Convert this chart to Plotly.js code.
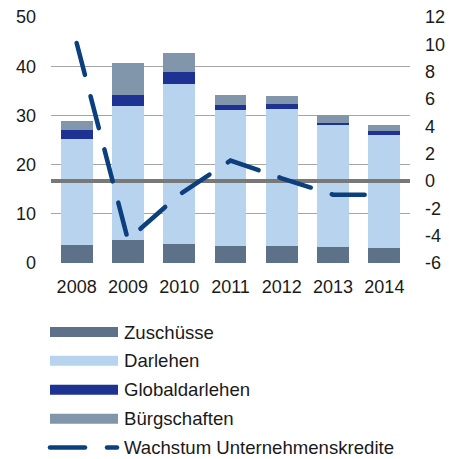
<!DOCTYPE html>
<html>
<head>
<meta charset="utf-8">
<script src="https://cdn.plot.ly/plotly-3.0.1.min.js"></script>
<style>
html,body{margin:0;padding:0;background:#fff;}
#chart{width:449px;height:459px;}
.scatterlayer .js-line{stroke-linecap:round;}
.shapelayer path{stroke-linecap:round;}
</style>
</head>
<body>
<div id="chart"></div>
<script>
// ---- data ----
var years = ['2008','2009','2010','2011','2012','2013','2014'];
var zuschuesse = [3.7, 4.6, 3.85, 3.5, 3.4, 3.2, 3.05];
var darlehen = [21.5, 27.3, 32.45, 27.5, 28.0, 24.85, 22.95];
var globaldarlehen = [1.75, 2.3, 2.5, 1.2, 1.0, 0.45, 0.8];
var buergschaften = [1.85, 6.4, 3.9, 2.0, 1.6, 1.6, 1.3];
var wachstum = [10.1, -4.3, -1.0, 1.5, 0.2, -1.0, -1.0];
var seriesNames = ['Zuschüsse','Darlehen','Globaldarlehen','Bürgschaften','Wachstum Unternehmenskredite'];
var leftTicks = [0,10,20,30,40,50];
var rightTicks = [-6,-4,-2,0,2,4,6,8,10,12];
var rightTickText = ['-6','-4','-2','0','2','4','6','8','10','12'];

// ---- styles ----
var colors = ['#5d7189','#b8d3ee','#1e3293','#8296ab','#0b3f7d'];
var font = {family:'"Liberation Sans", Arial, sans-serif', size:18, color:'#1a1a1a'};
var legFont = {family:'"Liberation Sans", Arial, sans-serif', size:18.6, color:'#1a1a1a'};
var idx = years.map(function(_, i){ return i; });
var barVals = [zuschuesse, darlehen, globaldarlehen, buergschaften];

var traces = barVals.map(function(v, k){
  return {type:'bar', x:idx, y:v, name:seriesNames[k], width:0.62,
    marker:{color:colors[k], line:{width:0}}, yaxis:'y', hoverinfo:'skip'};
});
// zero reference line for right axis
traces.push({type:'scatter', mode:'lines', x:[-0.5, years.length-0.5], y:[0,0], yaxis:'y2',
  line:{color:'#787878', width:4}, showlegend:false, hoverinfo:'skip'});
traces.push({type:'scatter', mode:'lines', x:idx, y:wachstum, yaxis:'y2', name:seriesNames[4],
  line:{color:colors[4], width:4.5, dash:'33px,22px'}, hoverinfo:'skip'});

// ---- manual legend ----
var plotTop = 17.3, plotBottom = 263.3, plotLeft = 51, plotRight = 410;
function py(p){ return (plotBottom - p)/(plotBottom - plotTop); }
function px(p){ return (p - plotLeft)/(plotRight - plotLeft); }
var legY = [332.3, 361, 390, 419, 447.7];
var shapes = [];
var annotations = [];
for (var k = 0; k < 4; k++) {
  shapes.push({type:'rect', xref:'paper', yref:'paper', x0:px(50), x1:px(118),
    y0:py(legY[k]+5), y1:py(legY[k]-5), fillcolor:colors[k], line:{width:0}});
}
shapes.push({type:'line', xref:'paper', yref:'paper', x0:px(50), x1:px(85), y0:py(legY[4]), y1:py(legY[4]),
  line:{color:colors[4], width:4.5}});
shapes.push({type:'line', xref:'paper', yref:'paper', x0:px(107), x1:px(117), y0:py(legY[4]), y1:py(legY[4]),
  line:{color:colors[4], width:4.5}});
for (var k = 0; k < 5; k++) {
  annotations.push({xref:'paper', yref:'paper', x:px(122), y:py(legY[k]), xanchor:'left', yanchor:'middle',
    text:seriesNames[k], showarrow:false, font:legFont});
}

var layout = {
  width:449, height:459,
  margin:{l:plotLeft, r:449-plotRight, t:plotTop, b:459-plotBottom, pad:0},
  paper_bgcolor:'#fff', plot_bgcolor:'#fff',
  barmode:'stack', showlegend:false, font:font,
  xaxis:{range:[-0.5, years.length-0.5], tickvals:idx, ticktext:years, showgrid:false,
    zeroline:false, showline:false, ticks:'', tickfont:font, ticklabelstandoff:11, fixedrange:true},
  yaxis:{range:[0,50], tickvals:leftTicks, showgrid:true, gridcolor:'#a6a6a6', gridwidth:1,
    zeroline:false, showline:false, ticks:'', tickfont:font, ticklabelstandoff:14, fixedrange:true},
  yaxis2:{range:[-6,12], tickvals:rightTicks, ticktext:rightTickText, overlaying:'y', side:'right', showgrid:false,
    zeroline:false, showline:false, ticks:'', tickfont:font, ticklabelstandoff:14, fixedrange:true},
  shapes:shapes, annotations:annotations
};
Plotly.newPlot('chart', traces, layout, {displayModeBar:false, staticPlot:true});
</script>
</body>
</html>
